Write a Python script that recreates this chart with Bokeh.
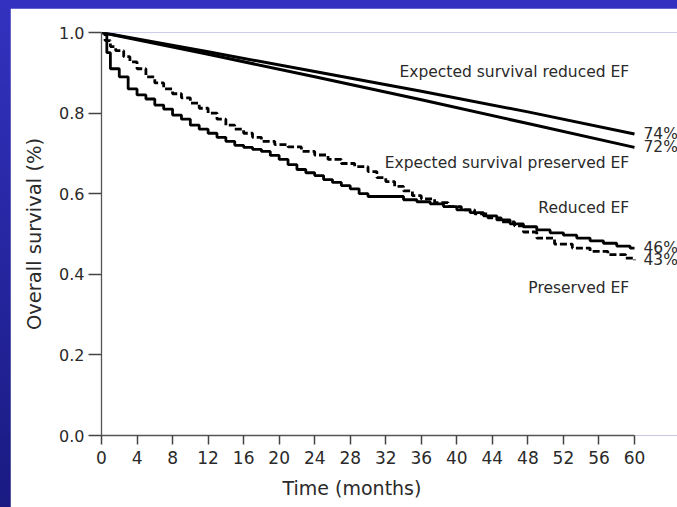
from bokeh.plotting import figure
from bokeh.models import Range1d, FixedTicker, Label, Title
from bokeh.embed import file_html
from bokeh.resources import INLINE

# ---- data ----
x_ticks = [0, 4, 8, 12, 16, 20, 24, 28, 32, 36, 40, 44, 48, 52, 56, 60]
y_ticks = [0.0, 0.2, 0.4, 0.6, 0.8, 1.0]
y_tick_labels = ["0.0", "0.2", "0.4", "0.6", "0.8", "1.0"]

exp_months = [0, 12, 24, 36, 48, 60]
exp_reduced = [1.0, 0.952, 0.903, 0.854, 0.803, 0.748]
exp_preserved = [1.0, 0.946, 0.890, 0.833, 0.774, 0.715]

reduced_t = [0, 0.6, 1.0, 2.0, 3.0, 4.0, 5.0, 6.0, 7.0, 8.0, 9.0, 10.0, 11.0, 12.0,
             13.0, 14.0, 15.0, 16.0, 17.0, 18.0, 19.0, 20.0, 21.0, 22.0, 23.0, 24.0,
             25.0, 26.0, 27.0, 28.0, 29.0, 30.0, 34.0, 35.5, 37.0, 38.5, 40.0, 41.5,
             43.0, 44.5, 46.0, 47.5, 49.0, 50.5, 52.0, 53.5, 55.0, 56.5, 58.0, 59.5, 60.0]
reduced_s = [1.0, 0.95, 0.91, 0.89, 0.86, 0.845, 0.835, 0.82, 0.81, 0.795, 0.785, 0.77,
             0.76, 0.75, 0.74, 0.73, 0.72, 0.715, 0.71, 0.705, 0.695, 0.685, 0.672, 0.66,
             0.652, 0.645, 0.635, 0.628, 0.62, 0.612, 0.60, 0.593, 0.585, 0.58, 0.575,
             0.568, 0.56, 0.553, 0.545, 0.535, 0.525, 0.518, 0.51, 0.503, 0.497, 0.49,
             0.483, 0.477, 0.47, 0.465, 0.465]

preserved_t = [0, 0.4, 1.0, 1.6, 2.5, 3.2, 4.0, 5.0, 6.0, 7.0, 8.0, 9.0, 10.0, 11.0,
               12.0, 13.0, 14.0, 15.0, 16.0, 17.0, 18.0, 19.5, 21.0, 22.5, 24.0, 25.5,
               27.0, 28.5, 30.0, 31.0, 32.0, 33.0, 34.0, 35.0, 36.0, 37.5, 39.0, 40.5,
               42.0, 43.5, 45.0, 46.5, 47.5, 49.0, 51.0, 53.0, 55.0, 57.0, 59.0, 60.0]
preserved_s = [1.0, 0.98, 0.965, 0.955, 0.94, 0.927, 0.91, 0.89, 0.875, 0.86, 0.848,
               0.838, 0.825, 0.812, 0.80, 0.785, 0.77, 0.76, 0.75, 0.74, 0.73, 0.722,
               0.716, 0.705, 0.696, 0.685, 0.675, 0.667, 0.655, 0.64, 0.63, 0.618, 0.607,
               0.595, 0.587, 0.578, 0.568, 0.56, 0.55, 0.54, 0.53, 0.52, 0.505, 0.49,
               0.475, 0.465, 0.457, 0.449, 0.44, 0.435]

FONT = "DejaVu Sans"
TXT = "#2a2a2a"

# frame: 0..60 months over 533 px; visible range extends to the right edge
x_end = 60 * (677 - 101) / (634 - 101)

p = figure(width=667, height=499, output_backend="svg", toolbar_location=None,
           x_range=Range1d(0, x_end), y_range=Range1d(0, 1))
p.min_border_left = 91
p.min_border_right = 0
p.min_border_top = 24
p.min_border_bottom = 70
p.background_fill_color = "white"
p.border_fill_color = "white"
p.outline_line_color = None
p.grid.visible = False

p.xaxis.ticker = FixedTicker(ticks=x_ticks)
p.xaxis.bounds = (0, 60)
p.yaxis.ticker = FixedTicker(ticks=y_ticks)
p.yaxis.major_label_overrides = {t: l for t, l in zip(y_ticks, y_tick_labels)}
for ax in (p.xaxis, p.yaxis):
    ax.axis_line_color = "#555555"
    ax.axis_line_width = 1.3
    ax.major_tick_line_color = "#444444"
    ax.major_tick_line_width = 1.5
    ax.minor_tick_line_color = None
    ax.major_tick_in = 0
    ax.major_label_text_font = FONT
    ax.major_label_text_color = TXT
p.xaxis.major_tick_out = 9
p.xaxis.major_label_standoff = 6
p.xaxis.major_label_text_font_size = "17px"
p.yaxis.major_tick_out = 13
p.yaxis.major_label_standoff = 4
p.yaxis.major_label_text_font_size = "16px"

p.yaxis.axis_label = "Overall survival (%)"
p.yaxis.axis_label_text_font = FONT
p.yaxis.axis_label_text_font_size = "19.5px"
p.yaxis.axis_label_text_font_style = "normal"
p.yaxis.axis_label_text_color = TXT
p.yaxis.axis_label_standoff = 10

p.add_layout(Title(text="Time (months)", align="left", offset=181, standoff=17,
                   text_font=FONT, text_font_size="19px", text_font_style="normal",
                   text_color=TXT), "below")

p.line(exp_months, exp_reduced, line_color="black", line_width=3)
p.line(exp_months, exp_preserved, line_color="black", line_width=3)
p.step(reduced_t, reduced_s, mode="after", line_color="black", line_width=2.8)
p.step(preserved_t, preserved_s, mode="after", line_color="black", line_width=2.8,
       line_dash="7 3")

# curve names (right aligned)
names = [("Expected survival reduced EF", 0.901),
         ("Expected survival preserved EF", 0.676),
         ("Reduced EF", 0.565),
         ("Preserved EF", 0.367)]
for txt, yv in names:
    p.add_layout(Label(x=59.4, y=yv, text=txt, text_align="right", text_baseline="middle",
                       text_font=FONT, text_font_size="15.5px", text_color=TXT))

# end percentages
ends = [("74%", exp_reduced[-1]), ("72%", exp_preserved[-1]),
        ("46%", reduced_s[-1]), ("43%", preserved_s[-1])]
for txt, yv in ends:
    p.add_layout(Label(x=60, y=yv, x_offset=9, text=txt, text_align="left",
                       text_baseline="middle", text_font=FONT, text_font_size="15.5px",
                       text_color=TXT))

html = file_html(p, INLINE)
html = html.replace(
    "</head>",
    "<style>html{background:linear-gradient(180deg,#3232c0 0%,#1a1a82 100%) !important;}"
    "body{background:transparent !important;margin:8px 0 0 10px !important;"
    "padding:0 !important;}</style></head>", 1)
open("out.html", "w").write(html)
